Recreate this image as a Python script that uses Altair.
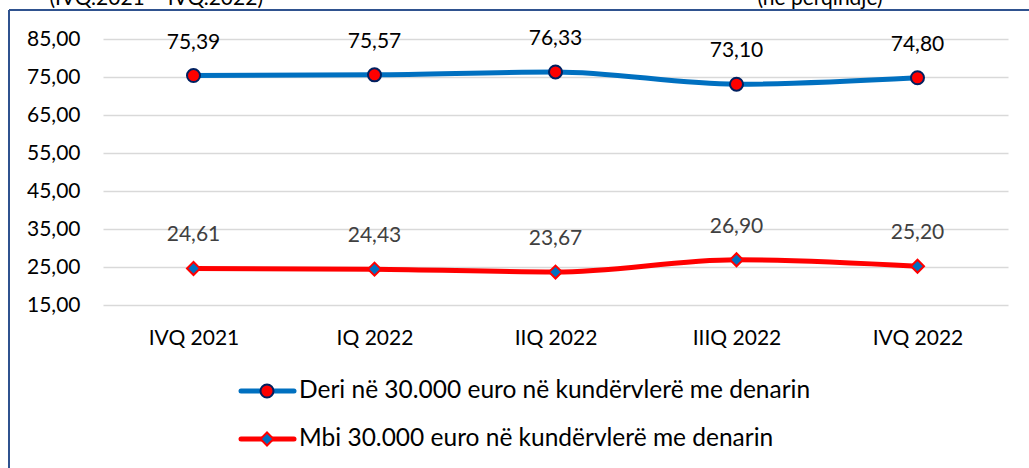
import altair as alt
import pandas as pd

categories = ["IVQ 2021", "IQ 2022", "IIQ 2022", "IIIQ 2022", "IVQ 2022"]
series_names = [
    "Deri në 30.000 euro në kundërvlerë me denarin",
    "Mbi 30.000 euro në kundërvlerë me denarin",
]
deri_values = [75.39, 75.57, 76.33, 73.10, 74.80]
mbi_values = [24.61, 24.43, 23.67, 26.90, 25.20]
y_ticks = [15, 25, 35, 45, 55, 65, 75, 85]
title_left = "(IVQ.2021 – IVQ.2022)"
title_right = "(në përqindje)"

line_colors = ["#0070C0", "#FF0000"]
marker_shapes = ["circle", "diamond"]
marker_fills = ["#FF0000", "#0070C0"]
marker_strokes = ["#002060", "#FF0000"]
label_colors = ["#000000", "#404040"]

FONT = "Lato"
FS = 21
LEG_FS = 24.5

rows = []
for s, vals in zip(series_names, [deri_values, mbi_values]):
    for c, v in zip(categories, vals):
        rows.append({"cat": c, "series": s, "value": v})
df = pd.DataFrame(rows)

x_enc = alt.X(
    "cat:N",
    sort=categories,
    scale=alt.Scale(type="point", padding=0.5),
    axis=alt.Axis(
        title=None, labelAngle=0, domain=False, ticks=False, grid=False,
        labelFont=FONT, labelFontSize=FS, labelColor="#000000", labelPadding=22,
    ),
)
y_enc = alt.Y(
    "value:Q",
    scale=alt.Scale(domain=[15, 85], nice=False, zero=False),
    axis=alt.Axis(
        title=None, values=y_ticks, domain=False, ticks=False, grid=True,
        gridColor="#D9D9D9", gridWidth=1.5,
        labelFont=FONT, labelFontSize=FS, labelColor="#000000", labelPadding=23,
        labelExpr="replace(format(datum.value, '.2f'), '.', ',')",
    ),
)

layers = []
for i, s in enumerate(series_names):
    base = alt.Chart(df).transform_filter(alt.datum.series == s)
    layers.append(
        base.mark_line(strokeWidth=5, interpolate="monotone", color=line_colors[i]).encode(x=x_enc, y=y_enc)
    )
for i, s in enumerate(series_names):
    base = alt.Chart(df).transform_filter(alt.datum.series == s)
    layers.append(
        base.mark_point(
            shape=marker_shapes[i], filled=True, fill=marker_fills[i],
            stroke=marker_strokes[i], strokeWidth=2, size=169, opacity=1,
        ).encode(x=x_enc, y=y_enc)
    )
    layers.append(
        base.transform_calculate(lbl="replace(format(datum.value, '.2f'), '.', ',')")
        .mark_text(dy=-33, font=FONT, fontSize=FS, color=label_colors[i])
        .encode(x=x_enc, y=y_enc, text="lbl:N")
    )

# legend (manual, built from series names)
leg_rows_y = [352, 400]
for i, s in enumerate(series_names):
    ldf = pd.DataFrame({"series": [s]})
    lb = alt.Chart(ldf)
    layers.append(
        lb.mark_rule(strokeWidth=5, color=line_colors[i], strokeCap="round").encode(
            x=alt.value(138), x2=alt.value(191), y=alt.value(leg_rows_y[i])
        )
    )
    layers.append(
        lb.mark_point(
            shape=marker_shapes[i], filled=True, fill=marker_fills[i],
            stroke=marker_strokes[i], strokeWidth=2, size=169, opacity=1,
        ).encode(x=alt.value(164), y=alt.value(leg_rows_y[i]))
    )
    layers.append(
        lb.mark_text(align="left", baseline="middle", font=FONT, fontSize=LEG_FS, color="#000000").encode(
            x=alt.value(196), y=alt.value(leg_rows_y[i]), text="series:N"
        )
    )

# frame border (partially visible) and cut-off titles
frame = alt.Chart(pd.DataFrame({"a": [0]}))
layers.append(
    frame.mark_rule(color="#2F528F", strokeWidth=2).encode(
        x=alt.value(-94), y=alt.value(-29), y2=alt.value(500)
    )
)
layers.append(
    frame.mark_rule(color="#2F528F", strokeWidth=2).encode(
        x=alt.value(-94), x2=alt.value(1000), y=alt.value(-29)
    )
)
tdf = pd.DataFrame({"t": [title_left, title_right], "al": ["l", "r"]})
layers.append(
    alt.Chart(tdf).transform_filter(alt.datum.al == "l").mark_text(
        align="right", baseline="alphabetic", font=FONT, fontSize=FS, color="#000000"
    ).encode(x=alt.value(160), y=alt.value(-34), text="t:N")
)
layers.append(
    alt.Chart(tdf).transform_filter(alt.datum.al == "r").mark_text(
        align="center", baseline="alphabetic", font=FONT, fontSize=FS, color="#000000"
    ).encode(x=alt.value(717), y=alt.value(-34), text="t:N")
)

chart = alt.layer(*layers).properties(
    width=905,
    height=266,
    autosize=alt.AutoSizeParams(type="none"),
    padding={"left": 103, "top": 39, "right": 21, "bottom": 163},
    background="#FFFFFF",
).configure_view(stroke=None)

chart.save("out.html", embed_options={"renderer": "svg", "actions": False})
